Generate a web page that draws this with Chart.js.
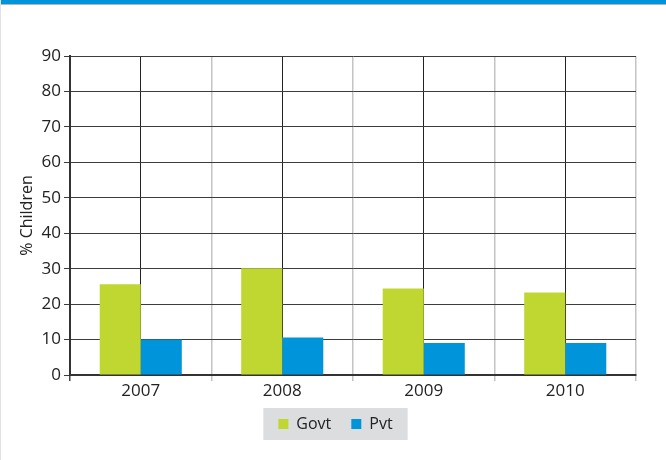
<!DOCTYPE html>
<html>
<head>
<meta charset="utf-8">
<script src="https://cdn.jsdelivr.net/npm/chart.js@4.4.1/dist/chart.umd.min.js"></script>
<style>
  html, body { margin: 0; padding: 0; background: #fff; overflow: hidden; }
  #wrap { position: relative; width: 666px; height: 460px; }
  #topbar { position: absolute; left: 0; top: 0; width: 666px; height: 4px; background: #0095da; border-bottom: 1px solid #b5b5b5; z-index: 2; }
  #leftedge { position: absolute; left: 0; top: 0; width: 1px; height: 460px; background: #e2e2e2; z-index: 2; }
  canvas { position: absolute; left: 0; top: 0; }
</style>
</head>
<body>
<div id="wrap">
  <div id="topbar"></div>
  <div id="leftedge"></div>
  <canvas id="c" width="666" height="460"></canvas>
</div>
<script>
const years = ['2007', '2008', '2009', '2010'];
const govt = [25.6, 30.1, 24.4, 23.3];
const pvt = [10.0, 10.6, 9.0, 9.0];
const yTicks = [0, 10, 20, 30, 40, 50, 60, 70, 80, 90];

const FONT = '"Open Sans", "DejaVu Sans", sans-serif';

const legendBg = {
  id: 'legendBg',
  beforeDraw(chart) {
    const lg = chart.legend;
    if (!lg || !lg.legendHitBoxes || !lg.legendHitBoxes.length) return;
    const hb = lg.legendHitBoxes;
    let l = Infinity, r = -Infinity, t = Infinity, b = -Infinity;
    hb.forEach(h => { l = Math.min(l, h.left); r = Math.max(r, h.left + h.width); t = Math.min(t, h.top); b = Math.max(b, h.top + h.height); });
    const ctx = chart.ctx;
    ctx.save();
    ctx.fillStyle = '#dcdddf';
    ctx.fillRect(l - 15, t - 8, (r - l) + 30, (b - t) + 16);
    ctx.restore();
  }
};

new Chart(document.getElementById('c'), {
  type: 'bar',
  data: {
    labels: years,
    datasets: [
      { label: 'Govt', data: govt, backgroundColor: '#bfd730', borderWidth: 0 },
      { label: 'Pvt', data: pvt, backgroundColor: '#0095da', borderWidth: 0 }
    ]
  },
  plugins: [legendBg],
  options: {
    responsive: false,
    animation: false,
    events: [],
    layout: { padding: { left: 35, right: 30, top: 56, bottom: 18 } },
    datasets: { bar: { barPercentage: 1.0, categoryPercentage: 0.58 } },
    plugins: {
      tooltip: { enabled: false },
      legend: {
        position: 'bottom',
        labels: {
          boxWidth: 10, boxHeight: 10, padding: 20,
          color: '#222',
          font: { family: FONT, size: 16 }
        }
      }
    },
    scales: {
      x: {
        type: 'category',
        offset: true,
        grid: {
          offset: true,
          color: ctx => (ctx.index === 0 || ctx.index === years.length) ? '#444' : '#c4c4c4',
          lineWidth: 1.5,
          tickLength: 6,
          drawTicks: true
        },
        border: { color: '#333', width: 2 },
        ticks: { color: '#222', font: { family: FONT, size: 17 }, padding: 0 },
        afterFit: s => { s.height = 21; }
      },
      x2: {
        type: 'category',
        labels: years,
        offset: true,
        position: 'bottom',
        grid: { offset: false, color: '#222', lineWidth: 1, drawTicks: false },
        border: { display: false },
        ticks: { display: false },
        afterFit: s => { s.height = 0; }
      },
      y: {
        min: 0, max: 90,
        afterBuildTicks: s => { s.ticks = yTicks.map(v => ({ value: v })); },
        grid: { color: '#3c3c3c', lineWidth: 1, tickLength: 6 },
        border: { color: '#333', width: 2 },
        ticks: { color: '#222', font: { family: FONT, size: 17 }, padding: 3 },
        title: {
          display: true, text: '% Children', color: '#222',
          font: { family: FONT, size: 16 },
          padding: { top: -17, bottom: 0 }
        },
        afterFit: s => { s.width = 35; }
      }
    }
  }
});
</script>
</body>
</html>
